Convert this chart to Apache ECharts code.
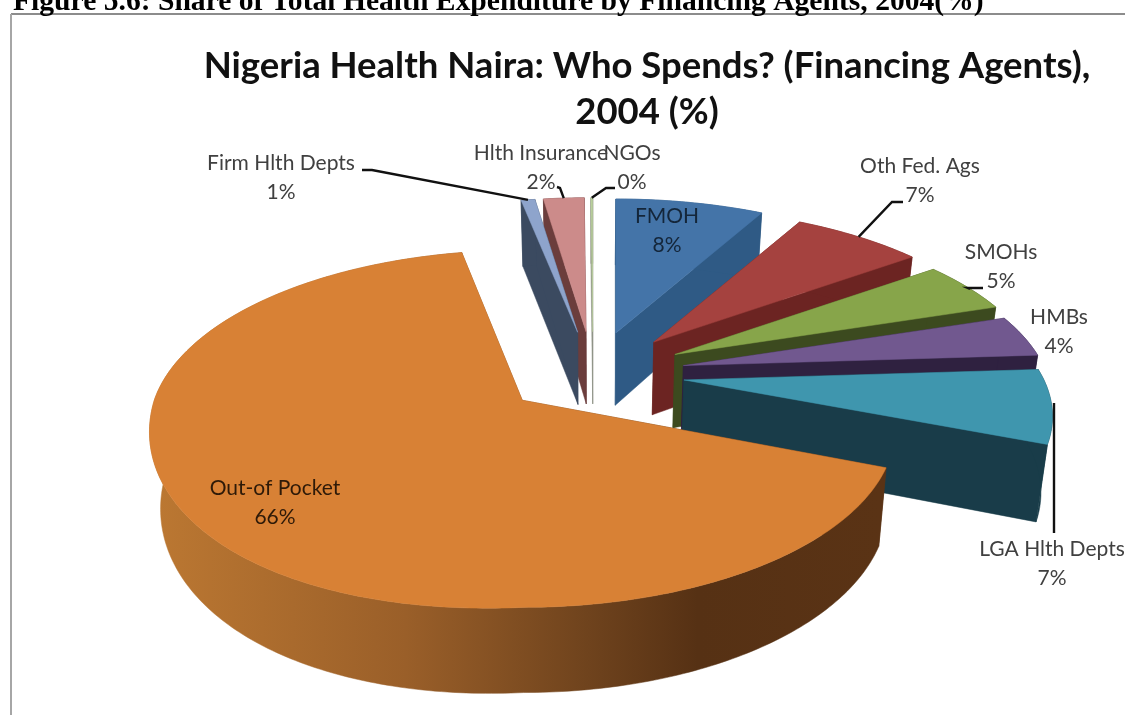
<!DOCTYPE html>
<html>
<head>
<meta charset="utf-8">
<style>html,body{margin:0;padding:0;background:#fff;overflow:hidden}#main{width:1125px;height:715px}</style>
<script src="https://cdn.jsdelivr.net/npm/echarts@6/dist/echarts.min.js"></script>
</head>
<body>
<div id="main"></div>
<script>
// values in pie order, clockwise from 12 o'clock
const categories = ['FMOH', 'Oth Fed. Ags', 'SMOHs', 'HMBs', 'LGA Hlth Depts', 'Out-of Pocket', 'Firm Hlth Depts', 'Hlth Insurance', 'NGOs'];
const values = [8, 7, 5, 4, 7, 66.1, 0.75, 2.2, 0.1];
const topColors = ['#4474a8', '#a5423f', '#87a54a', '#71588f', '#3f96ae', '#d88135', '#8ea4cc', '#cc8b8a', '#b9cf9c'];
const wallColors = ['#2f5a85', '#6c2422', '#3c4a1f', '#2f2140', '#193c49', '#6b3f1a', '#3b4a60', '#6b3d3c', '#8a8f80'];
// back to front
const drawOrder = [8, 7, 6, 0, 1, 2, 3, 4, 5];

// label centres, one per category
const labelX = [667, 920, 1001, 1059, 1052, 275, 281, 541, 632];
const labelY = [231, 181, 267, 332, 564, 503, 178, 168, 168];
const labelColor = ['#14263a', '#404040', '#404040', '#404040', '#404040', '#2e1a08', '#404040', '#404040', '#404040'];

// leader lines: elbow points from the label, then the rim of the slice
const leaders = {
  1: [[903, 202], [892, 202]],
  2: [[983, 288], [968, 288]],
  4: [[1054, 533]],
  6: [[362, 170], [372, 170]],
  7: [[557, 187], [560, 188]],
  8: [[615, 188], [606, 188]]
};
const leaderEnd = { 1: 0.5, 2: 0.55, 4: 0.62, 6: 0.5, 7: 0.5, 8: 0.5 };

const centerX = 593, centerY = 373.5;
const explodeX = 92, explodeY = 41.8;
const pieShape = { rx: 360, ry: 162.7, k: 0.214, sag: 0 };
const bigShape = { rx: 368, ry: 174, k: 0.16, sag: 20 };

const total = values.reduce((a, b) => a + b, 0);
const startAngles = [];
values.reduce((sum, v, i) => { startAngles[i] = sum / total * 2 * Math.PI; return sum + v; }, 0);
const sweep = i => values[i] / total * 2 * Math.PI;

function shapeOf(i) { return i === 5 ? bigShape : pieShape; }
function apexOf(i) {
  const mid = startAngles[i] + sweep(i) / 2;
  return [centerX + explodeX * Math.sin(mid), centerY - explodeY * Math.cos(mid)];
}
function rimPoint(i, a) {
  const s = shapeOf(i), p = apexOf(i);
  const u = Math.sin(a), v = Math.cos(a);
  const w = 1 / (1 + s.k * v);
  // the big slice hangs a little lower on its front left
  const sag = (u < 0 && v < 0) ? s.sag * u * v : 0;
  return [p[0] + s.rx * u * w, p[1] - s.ry * v * w + sag];
}
// same point on the underside of the pie
function lower(p) {
  return [centerX + (p[0] - centerX) * 0.975, p[1] + 66 + 0.047 * (p[1] - 200)];
}
function arcPoints(i) {
  const a0 = startAngles[i], n = Math.max(2, Math.ceil(sweep(i) / 0.015)), pts = [];
  for (let j = 0; j <= n; j++) pts.push(rimPoint(i, a0 + sweep(i) * j / n));
  return pts;
}

const orangeSide = new echarts.graphic.LinearGradient(150, 0, 880, 0, [
  { offset: 0, color: '#bc7832' },
  { offset: 0.35, color: '#9a5f29' },
  { offset: 0.6, color: '#6f431d' },
  { offset: 0.75, color: '#563114' },
  { offset: 1, color: '#5a3315' }
], true);

function renderSlice(params, api) {
  const i = api.value(0);
  const apex = apexOf(i), arc = arcPoints(i);
  const wall = i === 5 ? orangeSide : wallColors[i];
  const poly = (points, fill) => ({ type: 'polygon', shape: { points: points }, style: { fill: fill, stroke: fill, lineWidth: 0.5 } });
  const first = arc[0], last = arc[arc.length - 1];
  return {
    type: 'group',
    children: [
      poly([apex, first, lower(first), lower(apex)], wall),
      poly([apex, last, lower(last), lower(apex)], wall),
      poly(arc.concat(arc.map(lower).reverse()), wall),
      poly([apex].concat(arc), topColors[i])
    ]
  };
}

function renderLabel(params, api) {
  const i = api.value(0);
  const children = [{
    type: 'text',
    style: {
      x: labelX[i], y: labelY[i],
      text: categories[i] + '\n' + Math.round(values[i]) + '%',
      align: 'center', verticalAlign: 'middle',
      font: '21px Lato', lineHeight: 29,
      fill: labelColor[i]
    }
  }];
  if (leaders[i]) {
    const end = rimPoint(i, startAngles[i] + sweep(i) * leaderEnd[i]);
    children.push({
      type: 'polyline',
      shape: { points: i === 4 ? [[1054, 533], [1054, 403]] : leaders[i].concat([end]) },
      style: { stroke: '#111', lineWidth: 2.4, fill: null }
    });
  }
  return { type: 'group', children: children };
}

const myChart = echarts.init(document.getElementById('main'), null, { renderer: 'canvas' });
myChart.setOption({
  animation: false,
  backgroundColor: '#fff',
  title: [
    {
      text: 'Figure 5.6: Share of Total Health Expenditure by Financing Agents, 2004(%)',
      left: 8, top: -18,
      textStyle: { fontFamily: 'Liberation Serif', fontWeight: 'bold', fontSize: 29.6, color: '#000' }
    },
    {
      text: 'Nigeria Health Naira: Who Spends? (Financing Agents),\n2004 (%)',
      left: 642, top: 38, textAlign: 'center',
      textStyle: { fontFamily: 'Lato', fontWeight: 'bold', fontSize: 36.5, lineHeight: 46, color: '#111' }
    }
  ],
  graphic: [
    { type: 'line', shape: { x1: 11, y1: 14, x2: 1125, y2: 14 }, style: { stroke: '#8c8c8c', lineWidth: 2 } },
    { type: 'line', shape: { x1: 11, y1: 14, x2: 11, y2: 715 }, style: { stroke: '#a6a6a6', lineWidth: 2 } }
  ],
  series: [
    {
      type: 'custom', coordinateSystem: 'none', silent: true, z: 2,
      renderItem: renderSlice,
      data: drawOrder.map(i => [i, values[i]])
    },
    {
      type: 'custom', coordinateSystem: 'none', silent: true, z: 3,
      renderItem: renderLabel,
      data: categories.map((c, i) => [i, values[i]])
    }
  ]
});
</script>
</body>
</html>
